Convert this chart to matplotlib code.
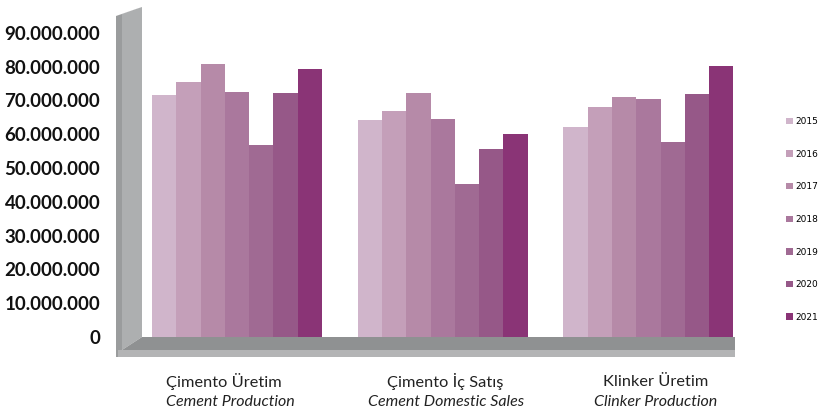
import matplotlib
matplotlib.use("Agg")
import matplotlib.pyplot as plt
from matplotlib.patches import Polygon
import numpy as np

categories_tr = ["Çimento Üretim", "Çimento İç Satış", "Klinker Üretim"]
categories_en = ["Cement Production", "Cement Domestic Sales", "Clinker Production"]
years = ["2015", "2016", "2017", "2018", "2019", "2020", "2021"]
values = {
    "2015": [71.6, 64.1, 62.0],
    "2016": [75.5, 66.9, 68.0],
    "2017": [80.9, 72.3, 71.0],
    "2018": [72.6, 64.5, 70.4],
    "2019": [56.8, 45.3, 57.8],
    "2020": [72.2, 55.6, 72.0],
    "2021": [79.2, 60.1, 80.3],
}
colors = ["#D0B5CB", "#C49FB9", "#B68AA8", "#AA789D", "#A06A93", "#965888", "#8A3476"]
yticks = [0, 10, 20, 30, 40, 50, 60, 70, 80, 90]
ytick_labels = ["0", "10.000.000", "20.000.000", "30.000.000", "40.000.000",
                "50.000.000", "60.000.000", "70.000.000", "80.000.000", "90.000.000"]

W, H = 820, 413
fig = plt.figure(figsize=(W / 100, H / 100), dpi=100)
fig.patch.set_facecolor("white")

def px(x, y):
    return (x / W, 1 - y / H)

# 3D-like wall and floor (decoration)
def poly(pts, color, z=0):
    p = Polygon([px(*q) for q in pts], closed=True, transform=fig.transFigure,
                facecolor=color, edgecolor="none", zorder=z)
    fig.patches.append(p)

poly([(116, 16), (122, 14), (122, 357), (116, 357)], "#9A9C9D")
poly([(122, 14), (142, 7), (142, 337), (122, 350), (122, 357)], "#ADAFB0")
poly([(142, 337), (735, 337), (735, 350), (122, 350)], "#8F9192")
poly([(118, 350), (735, 350), (735, 357), (118, 357)], "#B3B4B5")
poly([(116, 16), (136, 9), (142, 7), (122, 14)], "#8E9091")

ax = fig.add_axes([142 / W, 1 - 337 / H, (734 - 142) / W, (337 - 15) / H])
ax.set_facecolor("none")
ax.patch.set_alpha(0)

x = np.arange(len(categories_tr))
bw = 0.118
n = len(years)
for i, yr in enumerate(years):
    ax.bar(x + (i - (n - 1) / 2) * bw, values[yr], width=bw, color=colors[i],
           edgecolor="none", label=yr, zorder=3)

ax.set_xlim(-0.462, 2.416)
ax.set_ylim(0, (337 - 15) / 3.38)
for s in ax.spines.values():
    s.set_visible(False)
ax.set_xticks([])
ax.set_yticks(yticks)
ax.set_yticklabels(ytick_labels, fontsize=13.5, fontweight="bold", color="#111111",
                   family="Lato")
ax.tick_params(axis="y", length=0, pad=30)

offs_px = [(-13, -7), (2, 3), (7, 7)]
for i in range(len(categories_tr)):
    cx = 237 + 205.75 * i
    fig.text((cx + offs_px[i][0]) / W, 1 - 382 / H, categories_tr[i],
             ha="center", va="center", fontsize=11.8, family="Lato", color="#222222")
    fig.text((cx + offs_px[i][1]) / W, 1 - 402 / H, categories_en[i],
             ha="center", va="center", fontsize=11.5, family="Lato", style="italic",
             color="#222222")

handles, labels = ax.get_legend_handles_labels()
leg = fig.legend(handles, labels, loc="upper left", bbox_to_anchor=(786 / W, 1 - 117 / H),
                 frameon=False, fontsize=6.5, handlelength=0.75, handleheight=0.75,
                 handletextpad=0.3, labelspacing=2.62, borderpad=0, borderaxespad=0)

fig.savefig("out.png", dpi=100, facecolor="white")
